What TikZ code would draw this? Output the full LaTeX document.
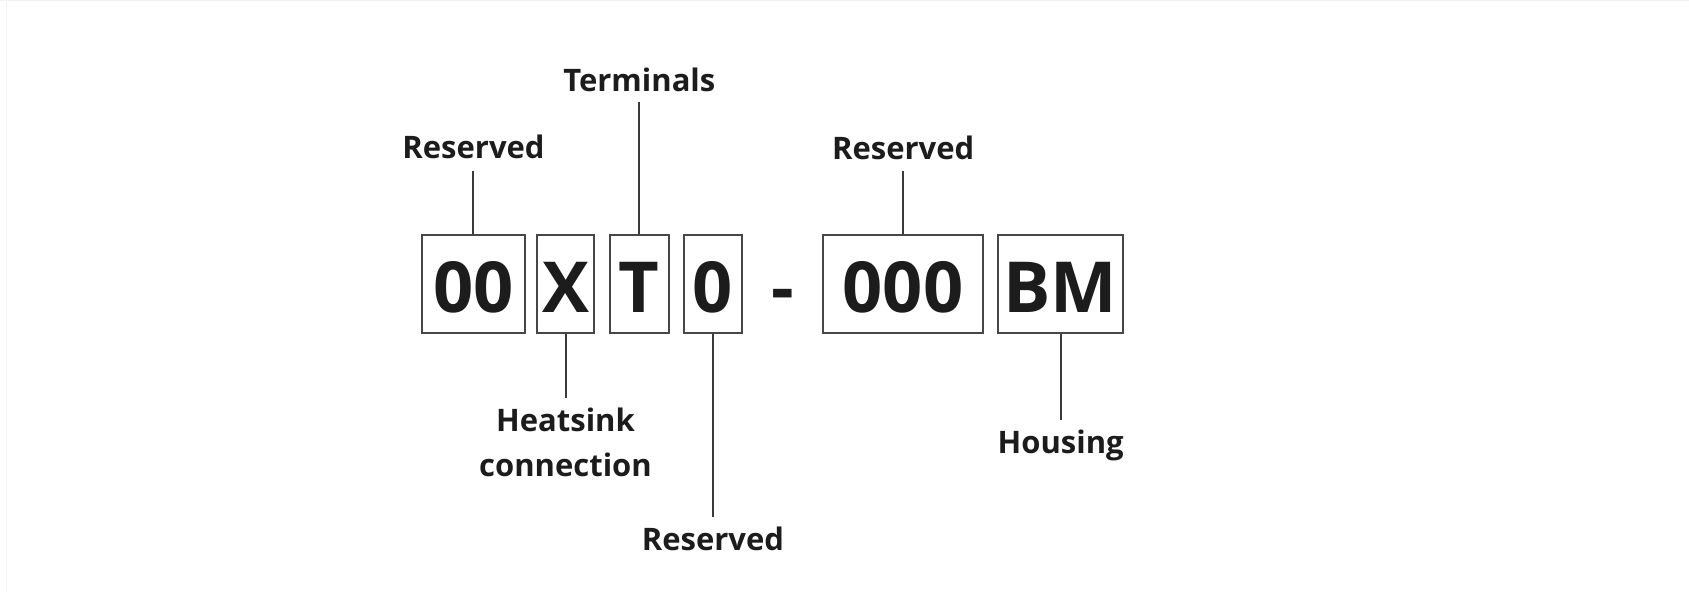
\documentclass[tikz,border=0pt]{standalone}
\usepackage{fontspec}
\setmainfont{Open Sans}
\definecolor{txt}{HTML}{1C1C1C}
\definecolor{ln}{HTML}{3A3A3A}
\definecolor{bx}{HTML}{474747}
\tikzset{
  codebox/.style={draw=bx, line width=1pt, inner sep=0pt, minimum height=49pt,
    font=\fontsize{35.2}{40}\selectfont\bfseries, text=txt, text height=30pt, text depth=1.3pt},
  bigtext/.style={inner sep=0pt, font=\fontsize{35.2}{40}\selectfont\bfseries, text=txt},
  lab/.style={inner sep=0pt, font=\fontsize{15.5}{22.85}\selectfont\bfseries, text=txt,
    text height=11pt, text depth=0pt},
  lead/.style={draw=ln, line width=1pt}
}
\begin{document}
\begin{tikzpicture}[x=0.5pt,y=-0.5pt]
\useasboundingbox (0,0) rectangle (1689,592);
\fill[white] (0,0) rectangle (1689,592);
\draw[gray!10, line width=0.5pt] (0,0.5) -- (1689,0.5);
\draw[gray!8, line width=0.5pt] (6,0) -- (6,592);
% code boxes
\node[codebox, minimum width=51.65pt] (b1) at (473.35,284) {00};
\node[codebox, minimum width=28.8pt] (b2) at (565.5,284) {X};
\node[codebox, minimum width=29.35pt] (b3) at (639.35,284) {T};
\node[codebox, minimum width=29.4pt] (b4) at (712.9,284) {0};
\node[bigtext, anchor=base] (dash) at (782.8,312.7) {-};
\node[codebox, minimum width=79.7pt] (b5) at (903,284) {000};
\node[codebox, minimum width=62.2pt] (b6) at (1060.5,284) {BM};
% labels
\node[lab, anchor=base] (r1) at (473.5,159) {Reserved};
\node[lab, anchor=base] (t1) at (639.3,91.7) {Terminals};
\node[lab, anchor=base] (r2) at (903.2,159.3) {Reserved};
\node[lab, anchor=base, align=center] (h1) at (565.5,476.7) {Heatsink\\connection};
\coordinate (h1top) at (565.5,398.3);
\node[lab, anchor=base] (r3) at (712.9,550.7) {Reserved};
\node[lab, anchor=base] (h2) at (1060.7,453.3) {Housing};
% leaders
\draw[lead, shorten >=5.85pt] (b1.north) -- (b1.north |- r1.south);
\draw[lead, shorten >=5pt] (b3.north) -- (b3.north |- t1.south);
\draw[lead, shorten >=5.7pt] (b5.north) -- (b5.north |- r2.south);
\draw[lead] (b2.south) -- (b2.south |- h1top);
\draw[lead, shorten >=5.6pt] (b4.south) -- (b4.south |- r3.north);
\draw[lead, shorten >=5.6pt] (b6.south) -- (b6.south |- h2.north);
\end{tikzpicture}
\end{document}
